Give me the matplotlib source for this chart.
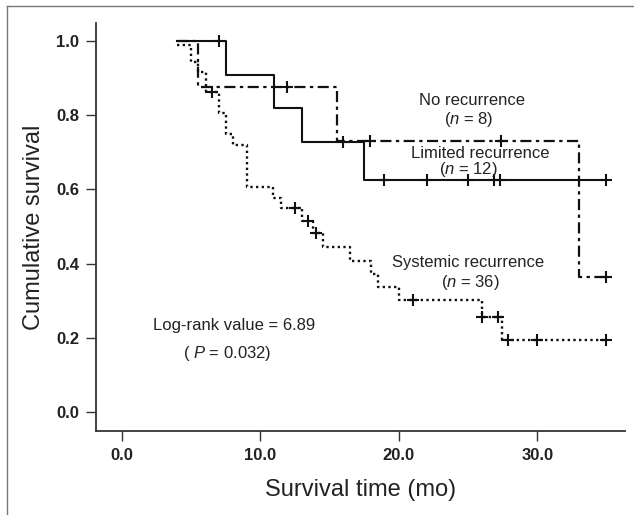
import numpy as np
import matplotlib
matplotlib.use('Agg')
import matplotlib.pyplot as plt
from matplotlib.lines import Line2D

plt.rcParams['font.family'] = 'Liberation Sans'
plt.rcParams['mathtext.fontset'] = 'custom'
plt.rcParams['mathtext.rm'] = 'Liberation Sans'
plt.rcParams['mathtext.it'] = 'Liberation Sans:italic'

# Kaplan-Meier steps (time in months, cumulative survival)
no_t = [4.0, 5.5, 15.5, 33.0, 35.0]
no_s = [1.0, 0.875, 0.729, 0.365, 0.365]
no_cens = [11.95, 17.9, 27.4, 35.0]

lim_t = [4.0, 7.5, 11.0, 13.0, 17.5, 35.0]
lim_s = [1.0, 0.909, 0.818, 0.727, 0.625, 0.625]
lim_cens = [7.0, 16.0, 18.9, 22.0, 25.0, 26.9, 27.3, 35.0]

sys_t = [4.0, 5.0, 5.5, 6.05, 7.03, 7.5, 8.0, 9.0, 10.93, 11.5, 13.0, 13.8,
         14.5, 16.5, 18.0, 18.5, 20.0, 26.0, 27.43, 35.0]
sys_s = [0.988, 0.944, 0.917, 0.861, 0.805, 0.750, 0.720, 0.606, 0.577, 0.549,
         0.516, 0.483, 0.445, 0.408, 0.372, 0.336, 0.302, 0.257, 0.194, 0.194]
sys_cens = [6.5, 12.5, 13.45, 14.05, 21.0, 26.0, 27.2, 27.9, 30.0, 35.0]

x_ticks = [0, 10, 20, 30]
y_ticks = [0.0, 0.2, 0.4, 0.6, 0.8, 1.0]


def level_at(times, surv, t):
    idx = np.searchsorted(times, t, side='right') - 1
    return surv[max(idx, 0)]


fig = plt.figure(figsize=(6.34, 5.15), dpi=100)
ax = fig.add_axes([0.1514, 0.1631, 0.8344, 0.7928])

ink = '#111111'
styles = [
    (no_t, no_s, no_cens, dict(linestyle=(0, (5, 2, 1.5, 2)), lw=1.6)),
    (lim_t, lim_s, lim_cens, dict(linestyle='-', lw=1.5)),
    (sys_t, sys_s, sys_cens, dict(linestyle=(0, (1, 1.4)), lw=1.7)),
]
for t, s, cens, kw in styles:
    ax.step(t, s, where='post', color=ink, **kw)
    cy = [level_at(t, s, c) for c in cens]
    ax.plot(cens, cy, ls='none', marker='+', ms=8, mew=1.5, color=ink)

ax.set_xlim(-1.88, 36.34)
ax.set_ylim(-0.0506, 1.0485)
ax.set_xticks(x_ticks)
ax.set_xticklabels([f'{v:.1f}' for v in x_ticks], fontweight='bold', fontsize=12)
ax.set_yticks(y_ticks)
ax.set_yticklabels([f'{v:.1f}' for v in y_ticks], fontweight='bold', fontsize=12)
ax.tick_params(direction='out', length=7, width=1.0, color='#333', pad=5,
               labelcolor='#222')

for side in ('top', 'right'):
    ax.spines[side].set_visible(False)
for side in ('left', 'bottom'):
    ax.spines[side].set_color('#333')
    ax.spines[side].set_linewidth(1.3)

ax.set_xlabel('Survival time (mo)', fontsize=17, color='#222', labelpad=12)
ax.set_ylabel('Cumulative survival', fontsize=17, color='#222', labelpad=8)

txt = dict(ha='center', va='center', fontsize=12, color='#222')
ax.text(25.27, 0.840, 'No recurrence', **txt)
ax.text(25.08, 0.787, '($\\it{n}$ = 8)', **txt)
ax.text(25.87, 0.697, 'Limited recurrence', **txt)
ax.text(25.0, 0.654, '($\\it{n}$ = 12)', **txt)
ax.text(25.0, 0.402, 'Systemic recurrence', **txt)
ax.text(25.2, 0.349, '($\\it{n}$ = 36)', **txt)
ax.text(8.09, 0.233, 'Log-rank value = 6.89', **txt)
ax.text(7.62, 0.157, '( $\\it{P}$ = 0.032)', **txt)

# thin frame on the top and left edge of the figure
fig.add_artist(Line2D([0.011, 1.0], [0.9883, 0.9883], color='#777', lw=1.0))
fig.add_artist(Line2D([0.011, 0.011], [0.0, 0.9883], color='#777', lw=1.0))

fig.savefig('out.png', dpi=100)
